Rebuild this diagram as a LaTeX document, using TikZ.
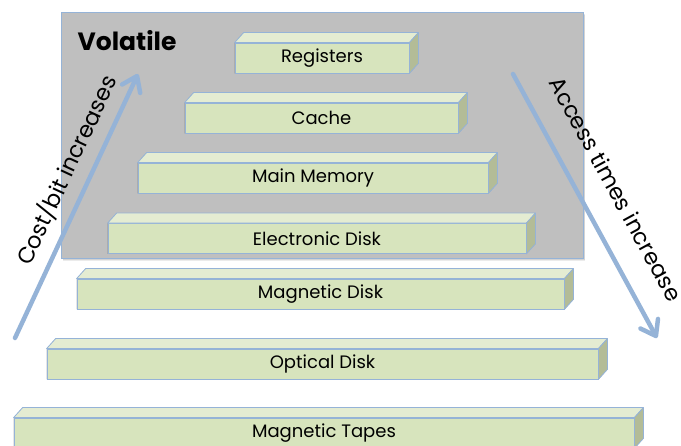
\documentclass[tikz,border=0pt]{standalone}
\usepackage{fontspec}
\setmainfont{Poppins}
\usetikzlibrary{arrows.meta,calc}

\definecolor{facefront}{HTML}{D7E4BD}
\definecolor{facetop}{HTML}{E4ECD2}
\definecolor{faceside}{HTML}{B3BC97}
\definecolor{edgeblue}{HTML}{95B3D7}
\definecolor{panelgray}{HTML}{BFBFBF}

\pgfdeclarelayer{panellayer}
\pgfdeclarelayer{shadowlayer}
\pgfsetlayers{panellayer,shadowlayer,main}

% soft drop shadow of a closed path given as #1
\newcommand\softshadow[1]{%
  \fill[black, opacity=0.10, shift={(0.5,1)}] #1;
  \fill[black, opacity=0.10, shift={(1.5,2)}] #1;
  \fill[black, opacity=0.08, shift={(2,3)}] #1;
}

% one level of the hierarchy: front face node plus top and right faces
\newcommand\tierbox[4]{%
  \node[tier, minimum width=#3] (#1) at (#2) {#4};
  \filldraw[topface] (#1.north west) -- ++(9,-10) -- ($(#1.north east)+(9,-10)$) -- (#1.north east) -- cycle;
  \filldraw[sideface] (#1.north east) -- ++(9,-10) -- ($(#1.south east)+(9,-10)$) -- (#1.south east) -- cycle;
  \begin{pgfonlayer}{shadowlayer}
    \softshadow{(#1.south west) -- (#1.north west) -- ++(9,-10) -- ($(#1.north east)+(9,-10)$)
      -- ($(#1.south east)+(9,-10)$) -- (#1.south east) -- cycle}
  \end{pgfonlayer}
}

\begin{document}
\begin{tikzpicture}[x=1pt,y=-1pt,
  tier/.style={draw=edgeblue, line width=0.8pt, fill=facefront, inner sep=0pt,
    minimum height=30pt, font=\fontsize{18}{18}\selectfont},
  topface/.style={draw=edgeblue, line width=0.8pt, fill=facetop, line join=round},
  sideface/.style={draw=edgeblue, line width=0.8pt, fill=faceside, line join=round},
  trend/.style={draw=edgeblue, line width=4.5pt, line cap=round, line join=round,
    -{Straight Barb[length=14pt, width=20pt, line join=round, line cap=round]}},
  sidenote/.style={font=\fontsize{22.5}{22.5}\selectfont},
]
\useasboundingbox (0,0) rectangle (681,446);

% volatile storage panel
\begin{pgfonlayer}{panellayer}
  \softshadow{(61,12) rectangle (583,258)}
  \node[draw=edgeblue, line width=0.8pt, fill=panelgray, inner sep=0pt,
    minimum width=522pt, minimum height=246pt] (panel) at (322,135) {};
\end{pgfonlayer}
\node[font=\fontsize{25}{25}\bfseries] (vol) at (127,41) {Volatile};

% levels
\tierbox{reg}{322,58}{174pt}{Registers}
\tierbox{cache}{321.5,118}{273pt}{Cache}
\tierbox{mainmem}{313,178}{350pt}{Main Memory}
\tierbox{edisk}{317,238.5}{418pt}{Electronic Disk}
\tierbox{mdisk}{320.5,294}{487pt}{Magnetic Disk}
\tierbox{odisk}{322.5,364}{551pt}{Optical Disk}
\tierbox{tapes}{324,433}{620pt}{Magnetic Tapes}

% trend arrows
\coordinate (costlow) at (15,338);
\coordinate (costhigh) at (138,74);
\coordinate (fastend) at (513,74);
\coordinate (slowend) at (657,338);
\draw[trend] (costlow) -- (costhigh);
\draw[trend] (fastend) -- (slowend);

\node[sidenote, rotate=65] (costlbl) at (66,170) {Cost/bit increases};
\node[sidenote, rotate=-61.4] (acclbl) at (616,189) {Access times increase};
\end{tikzpicture}
\end{document}
